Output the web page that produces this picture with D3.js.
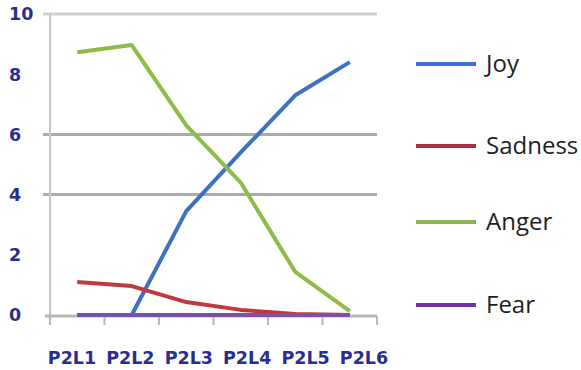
<!DOCTYPE html>
<html>
<head>
<meta charset="utf-8">
<script src="https://cdn.jsdelivr.net/npm/d3@7"></script>
<style>
  html, body { margin: 0; padding: 0; background: #fff; }
  svg { display: block; }
</style>
</head>
<body>
<svg id="chart" width="581" height="370"></svg>
<script>
// Emotion scores per passage
const categories = ["P2L1", "P2L2", "P2L3", "P2L4", "P2L5", "P2L6"];
const joy     = [0, 0, 3.45, 5.4, 7.3, 8.4];
const sadness = [1.1, 0.96, 0.43, 0.17, 0.03, 0];
const anger   = [8.73, 8.97, 6.3, 4.4, 1.43, 0.13];
const fear    = [0, 0, 0, 0, 0, 0];
const yTicks  = [0, 2, 4, 6, 8, 10];
const gridValues = [4, 6, 10];

const series = [
  { name: "Joy",     values: joy,     color: "#3d72c2", key: "#3f6fe3" },
  { name: "Sadness", values: sadness, color: "#c0393e", key: "#a8313f" },
  { name: "Anger",   values: anger,   color: "#8fbb48", key: "#8db552" },
  { name: "Fear",    values: fear,    color: "#7a52a4", key: "#7232a2" }
];

const svg = d3.select("#chart");
const plotLeft = 50, plotRight = 377, plotTop = 14, plotBottom = 315;

const x = d3.scaleBand().domain(categories).range([plotLeft, plotRight]);
const labelX = d3.scalePoint().domain(categories).range([72, 364]);
const y = d3.scaleLinear().domain([0, 10]).range([plotBottom, plotTop]);

// horizontal gridlines
svg.append("g").selectAll("line").data(gridValues).join("line")
  .attr("x1", 43).attr("x2", plotRight)
  .attr("y1", d => y(d)).attr("y2", d => y(d))
  .attr("stroke", d => d === 10 ? "#cfcfcf" : "#ababab")
  .attr("stroke-width", 3);

// y axis line
svg.append("line")
  .attr("x1", plotLeft).attr("x2", plotLeft)
  .attr("y1", plotTop).attr("y2", plotBottom + 4)
  .attr("stroke", "#c6c6c6").attr("stroke-width", 2);

// x axis with tick marks at band edges
const edges = categories.map(c => x(c)).concat([x(categories[categories.length - 1]) + x.bandwidth()]);
svg.append("line")
  .attr("x1", 45).attr("x2", plotRight)
  .attr("y1", plotBottom + 1).attr("y2", plotBottom + 1)
  .attr("stroke", "#b8b8b8").attr("stroke-width", 3);
svg.append("g").selectAll("line").data(edges).join("line")
  .attr("x1", d => d).attr("x2", d => d)
  .attr("y1", plotBottom + 1).attr("y2", plotBottom + 10)
  .attr("stroke", "#b8b8b8").attr("stroke-width", 2);

// y tick labels
svg.append("g").selectAll("text").data(yTicks).join("text")
  .attr("x", 9).attr("y", d => y(d))
  .attr("dy", "0.36em")
  .attr("font-family", "DejaVu Sans")
  .attr("font-weight", "bold")
  .attr("font-size", 17.5)
  .attr("fill", "#2b2d8d")
  .text(d => d);

// x category labels
svg.append("g").selectAll("text").data(categories).join("text")
  .attr("x", d => labelX(d)).attr("y", 364)
  .attr("text-anchor", "middle")
  .attr("font-family", "DejaVu Sans")
  .attr("font-weight", "bold")
  .attr("font-size", 17.5)
  .attr("fill", "#2b2d8d")
  .text(d => d);

// series lines
const line = d3.line()
  .x((d, i) => x(categories[i]) + x.bandwidth() / 2)
  .y(d => y(d));

svg.append("g").selectAll("path").data(series).join("path")
  .attr("d", s => line(s.values))
  .attr("fill", "none")
  .attr("stroke", s => s.color)
  .attr("stroke-width", 4)
  .attr("stroke-linejoin", "round")
  .attr("stroke-linecap", "butt");

// legend
const legendY = [64, 146, 222, 305];
const legend = svg.append("g").selectAll("g").data(series).join("g")
  .attr("transform", (s, i) => `translate(0,${legendY[i]})`);
legend.append("line")
  .attr("x1", 416).attr("x2", 476)
  .attr("y1", 0).attr("y2", 0)
  .attr("stroke", s => s.key)
  .attr("stroke-width", 4);
legend.append("text")
  .attr("x", 486).attr("y", 8)
  .attr("font-family", "Open Sans")
  .attr("font-size", 24)
  .attr("fill", "#1e1e1e")
  .text(s => s.name);
</script>
</body>
</html>
